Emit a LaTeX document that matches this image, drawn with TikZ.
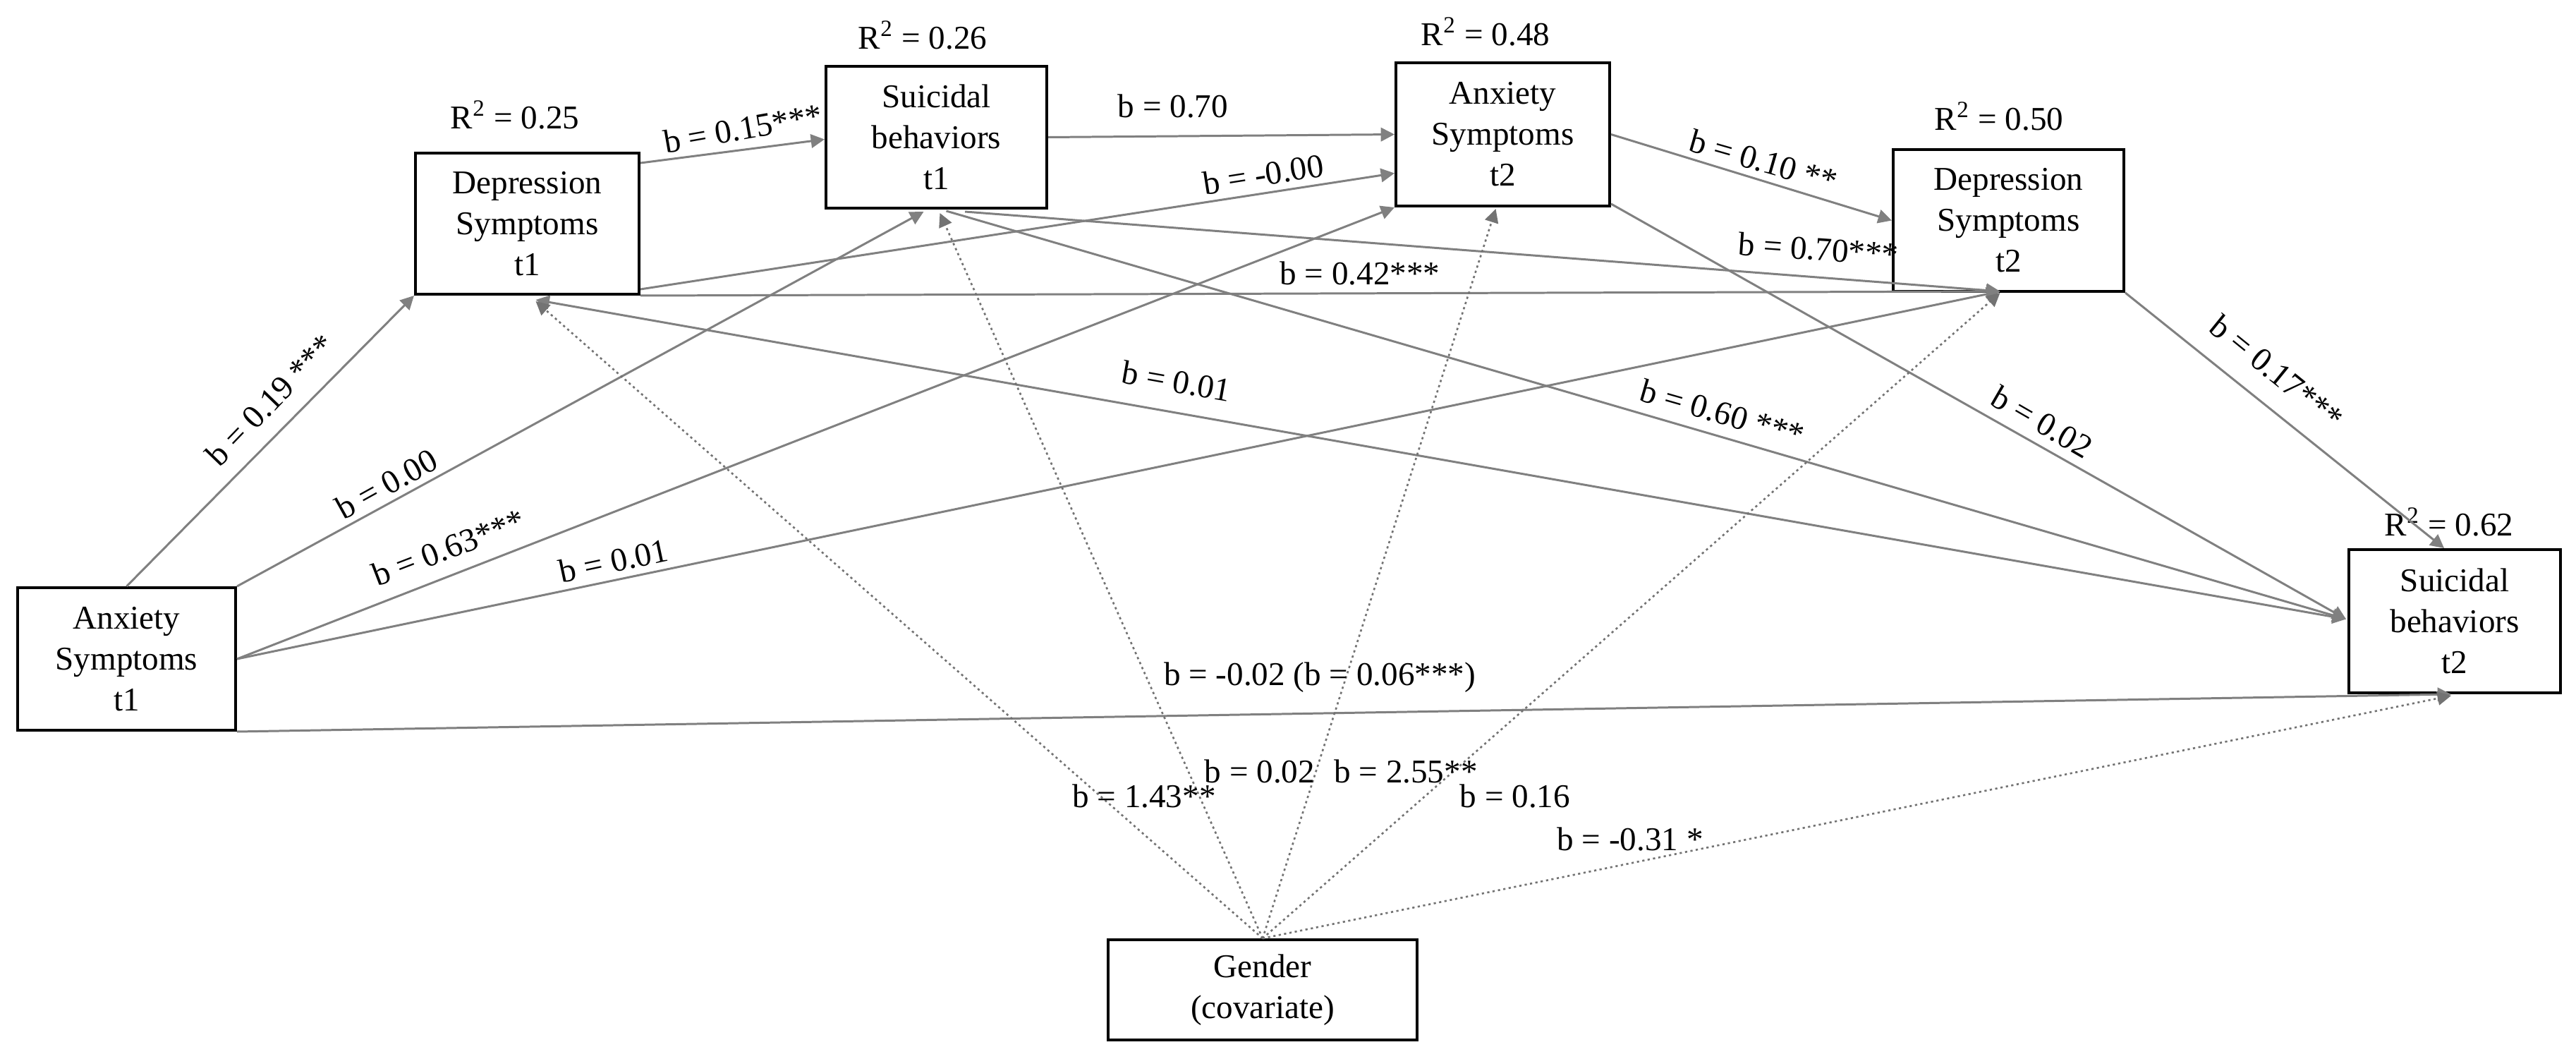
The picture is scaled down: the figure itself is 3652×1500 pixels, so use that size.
\documentclass[tikz,border=0pt]{standalone}
\usepackage{fontspec}
\setmainfont{Liberation Serif}
\usetikzlibrary{arrows.meta,calc}
\begin{document}
\begin{tikzpicture}[x=0.01cm,y=-0.01cm,
  font=\fontsize{13.4pt}{16.5pt}\selectfont,
  box/.style={draw=black, line width=1.1pt, align=center, inner sep=0pt},
  lbl/.style={inner sep=0pt, text=black},
  arr/.style={draw=black!50, line width=0.85pt, -{Triangle[length=5.5pt,width=5.5pt]}},
  darr/.style={draw=black!50, line width=0.85pt, {Triangle[length=5.5pt,width=5.5pt]}-{Triangle[length=5.5pt,width=5.5pt]}},
  dot/.style={draw=black!55, line width=0.75pt, dash pattern=on 0.9pt off 1.3pt, -{Triangle[length=5.5pt,width=5.5pt]}}
]
\useasboundingbox (0,0) rectangle (3652,1500);

% boxes
\node[box, minimum width=3.09cm, minimum height=2.02cm] (A1) at (179.5,934) {Anxiety\\Symptoms\\t1};
\node[box, minimum width=3.17cm, minimum height=2.0cm] (D1) at (747.5,317) {Depression\\Symptoms\\t1};
\node[box, minimum width=3.13cm, minimum height=2.01cm] (S1) at (1327.5,194.5) {Suicidal\\behaviors\\t1};
\node[box, minimum width=3.03cm, minimum height=2.03cm] (A2) at (2130.5,190.5) {Anxiety\\Symptoms\\t2};
\node[box, minimum width=3.27cm, minimum height=2.01cm] (D2) at (2847.5,312.5) {Depression\\Symptoms\\t2};
\node[box, minimum width=3.0cm, minimum height=2.03cm] (S2) at (3480,880.5) {Suicidal\\behaviors\\t2};
\node[box, minimum width=4.38cm, minimum height=1.42cm] (G) at (1790,1403) {Gender\\(covariate)};

% R squared
\node[lbl] (R1) at (730,163) {R\textsuperscript{2} = 0.25};
\node[lbl] (R2) at (1308,50) {R\textsuperscript{2} = 0.26};
\node[lbl] (R3) at (2106,45) {R\textsuperscript{2} = 0.48};
\node[lbl] (R4) at (2834,165) {R\textsuperscript{2} = 0.50};
\node[lbl] (R5) at (3472,740) {R\textsuperscript{2} = 0.62};

% solid paths
\draw[arr] (A1.north) -- (D1.south west);
\draw[arr] (A1.north east) -- ($(S1.south)+(-18,3)$);
\draw[arr] (A1.east) -- (A2.south west);
\draw[arr] (A1.east) -- ($(D2.south)+(-12,-2)$);
\draw[arr] (A1.south east) -- ($(S2.south)+(-5,0)$);
\draw[arr] ($(D1.north east)+(0,16)$) -- ($(S1.west)+(0,3)$);
\draw[arr] (S1.east) -- (A2.west);
\draw[arr] ($(D1.south east)+(0,-9)$) -- ($(A2.west)+(0,55)$);
\draw[arr] (D1.south east) -- ($(D2.south)+(-12,-2)$);
\draw[arr] ($(S1.south east)+(-118,3)$) -- ($(D2.south)+(-12,-2)$);
\draw[arr] ($(S1.south)+(14,2)$) -- ($(S2.west)+(-2,-3)$);
\draw[arr] (A2.east) -- (D2.west);
\draw[arr] ($(A2.south east)+(0,-5)$) -- ($(S2.west)+(-2,-3)$);
\draw[arr] (D2.south east) -- ($(S2.north)+(-15,0)$);
\draw[darr] ($(D1.south)+(12,6)$) -- ($(S2.west)+(-2,-3)$);

% gender (covariate) paths
\draw[dot] (G.north) -- ($(D1.south)+(12,8)$);
\draw[dot] (G.north) -- ($(S1.south)+(5,5)$);
\draw[dot] (G.north) -- ($(A2.south)+(-10,2)$);
\draw[dot] (G.north) -- ($(D2.south)+(-12,0)$);
\draw[dot] (G.north) -- ($(S2.south)+(-5,2)$);

% path labels
\node[lbl, rotate=46] (l1) at (383,567) {b = 0.19 ***};
\node[lbl, rotate=29] (l2) at (548,686) {b = 0.00};
\node[lbl, rotate=21] (l3) at (636,776) {b = 0.63***};
\node[lbl, rotate=12] (l4) at (870,795) {b = 0.01};
\node[lbl] (l5) at (1871,960) {b = -0.02 (b = 0.06***)};
\node[lbl, rotate=10] (l6) at (1053,182) {b = 0.15***};
\node[lbl] (l7) at (1663,150) {b = 0.70};
\node[lbl, rotate=9] (l8) at (1791,247) {b = -0.00};
\node[lbl] (l9) at (1928,387) {b = 0.42***};
\node[lbl, rotate=-10] (l10) at (1668,540) {b = 0.01};
\node[lbl, rotate=-4] (l11) at (2578,353) {b = 0.70***};
\node[lbl, rotate=-16] (l12) at (2500,228) {b = 0.10 **};
\node[lbl, rotate=-16] (l13) at (2442,585) {b = 0.60 ***};
\node[lbl, rotate=-30] (l14) at (2895,598) {b = 0.02};
\node[lbl, rotate=-39] (l15) at (3228,527) {b = 0.17***};
\node[lbl] (g1) at (1622,1128) {b = 1.43**};
\node[lbl] (g2) at (1786,1093) {b = 0.02};
\node[lbl] (g3) at (1993,1093) {b = 2.55**};
\node[lbl] (g4) at (2148,1128) {b = 0.16};
\node[lbl] (g5) at (2311,1189) {b = -0.31 *};
\end{tikzpicture}
\end{document}
